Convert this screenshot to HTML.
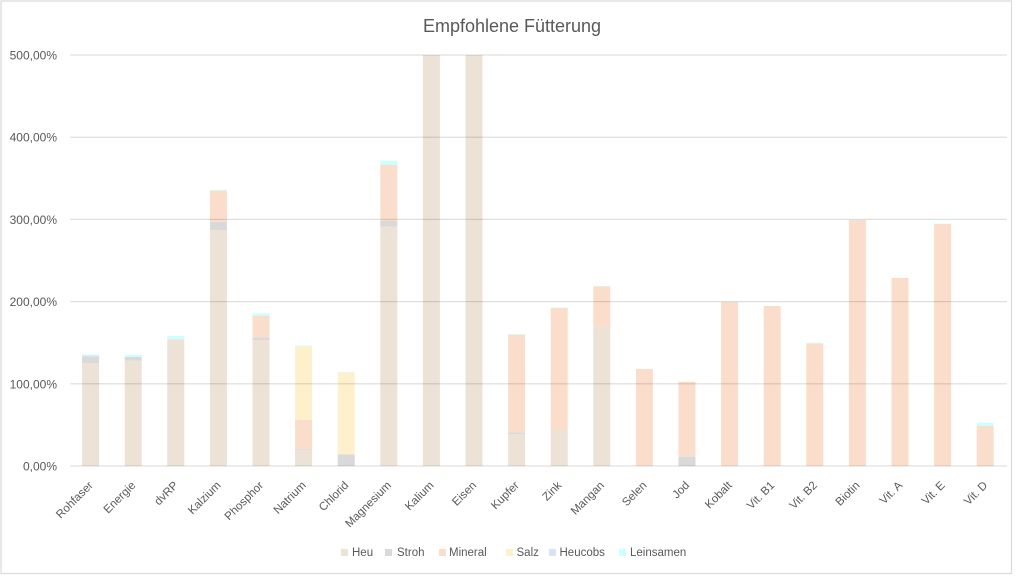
<!DOCTYPE html>
<html><head><meta charset="utf-8"><style>
html,body{margin:0;padding:0;background:#fff;}
svg{display:block;font-family:"Liberation Sans",Arial,sans-serif;}
</style></head><body>
<svg width="1024" height="576" viewBox="0 0 1024 576" xmlns="http://www.w3.org/2000/svg">
<rect x="0" y="0" width="1024" height="576" fill="#fff"/>
<rect x="1" y="1" width="1010.5" height="572.5" fill="#fff" stroke="#d9d9d9" stroke-width="1.2"/>
<text x="512" y="32" text-anchor="middle" font-size="18" fill="#595959">Empfohlene Fütterung</text>
<g id="bars"></g>
<g id="grid"></g>
<g font-size="12" fill="#595959" text-anchor="end">
<text x="57" y="59.5">500,00%</text>
<text x="57" y="141.7">400,00%</text>
<text x="57" y="223.9">300,00%</text>
<text x="57" y="306.1">200,00%</text>
<text x="57" y="388.3">100,00%</text>
<text x="57" y="470.5">0,00%</text>
</g>
<g id="labels" font-size="11.5" fill="#595959"></g>
<g font-size="11.5" fill="#595959">
<rect x="341" y="549" width="7" height="7" fill="#ede2d6"/><text x="352" y="556">Heu</text>
<rect x="385" y="549" width="7" height="7" fill="#d9d9d9"/><text x="397" y="556">Stroh</text>
<rect x="439" y="549" width="7" height="7" fill="#fadecb"/><text x="449" y="556">Mineral</text>
<rect x="506" y="549" width="7" height="7" fill="#fff0cc"/><text x="516.5" y="556">Salz</text>
<rect x="549" y="549" width="7" height="7" fill="#dae3f3"/><text x="559.5" y="556">Heucobs</text>
<rect x="619" y="549" width="7" height="7" fill="#ccffff"/><text x="630" y="556">Leinsamen</text>
</g>
<script>
(function(){
var ns="http://www.w3.org/2000/svg";
var C={h:"#ede2d6",s:"#d9d9d9",m:"#fadecb",z:"#fff0cc",c:"#dae3f3",l:"#ccffff"};
var names=["Rohfaser","Energie","dvRP","Kalzium","Phosphor","Natrium","Chlorid","Magnesium","Kalium","Eisen","Kupfer","Zink","Mangan","Selen","Jod","Kobalt","Vit. B1","Vit. B2","Biotin","Vit. A","Vit. E","Vit. D"];
var D=[
[["h",363,466],["s",357,363],["c",355.5,357],["l",354.5,355.5]],
[["h",360.7,466],["s",357,360.7],["l",354.7,357]],
[["h",339.3,466],["l",335.7,339.3]],
[["h",230,466],["s",221.7,230],["m",190.7,221.7],["l",189.8,190.7]],
[["h",340,466],["s",337.3,340],["m",315.7,337.3],["l",313.3,315.7]],
[["h",450.3,466],["s",449.5,450.3],["m",420,449.5],["z",346.3,420],["l",345.5,346.3]],
[["s",454.3,466],["z",372.7,454.3],["l",372,372.7]],
[["h",226.7,466],["s",221,226.7],["m",164.7,221],["l",160.7,164.7]],
[["h",55,466]],
[["h",55,466]],
[["h",434,466],["s",432.3,434],["m",334.7,432.3],["l",334,334.7]],
[["h",430,466],["m",308,430],["l",307.5,308]],
[["h",326.7,466],["m",286.3,326.7],["l",286,286.3]],
[["m",369,466]],
[["s",456.7,466],["m",382,456.7],["z",381.5,382]],
[["m",302,466]],
[["m",306,466]],
[["m",343.3,466],["l",342.8,343.3]],
[["m",220,466]],
[["m",278,466]],
[["m",224,466],["l",223.5,224]],
[["m",425.7,466],["l",422.7,425.7]]
];
var bars=document.getElementById("bars"),lab=document.getElementById("labels"),grid=document.getElementById("grid");
for(var i=0;i<22;i++){
 var cx=90.6+i*42.6;
 D[i].forEach(function(sg){
  var r=document.createElementNS(ns,"rect");
  r.setAttribute("x",(cx-8.5).toFixed(2));r.setAttribute("width","17");
  r.setAttribute("y",sg[1]);r.setAttribute("height",(sg[2]-sg[1]).toFixed(2));
  r.setAttribute("fill",C[sg[0]]);bars.appendChild(r);
 });
 var t=document.createElementNS(ns,"text");
 var ax=cx+3,ay=486;
 t.setAttribute("x",ax);t.setAttribute("y",ay);t.setAttribute("text-anchor","end");
 t.setAttribute("transform","rotate(-45 "+ax+" "+ay+")");
 t.textContent=names[i];lab.appendChild(t);
}
[55,137.2,219.4,301.6,383.8,466].forEach(function(y){
 var l=document.createElementNS(ns,"rect");
 l.setAttribute("x","70");l.setAttribute("width","937");
 l.setAttribute("y",(y-0.6).toFixed(2));l.setAttribute("height","1.2");
 l.setAttribute("fill","rgba(0,0,0,0.13)");grid.appendChild(l);
});
})();
</script>
</svg>
</body></html>
